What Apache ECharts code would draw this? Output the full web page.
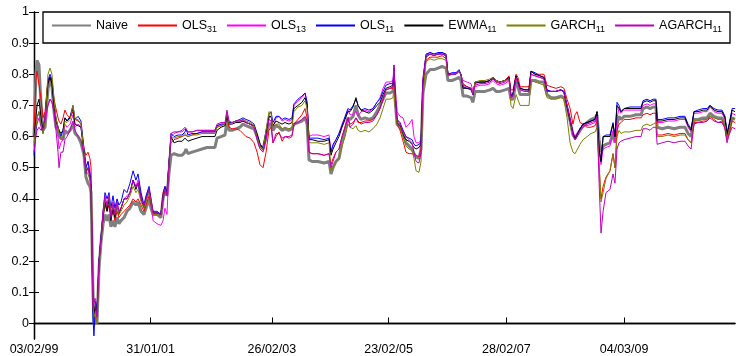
<!DOCTYPE html>
<html>
<head>
<meta charset="utf-8">
<script src="https://cdn.jsdelivr.net/npm/echarts@6/dist/echarts.min.js"></script>
<style>
  html, body { margin: 0; padding: 0; background: #fff; }
  #chart { width: 736px; height: 356px; }
</style>
</head>
<body>
<div id="chart"></div>
<script>
// Days elapsed since 03/02/1999 for each sampled observation
const days = [
  0,12,19,31,44,56,69,87,100,112,
  125,137,150,156,168,181,193,206,225,243,
  256,275,293,312,324,337,349,356,368,374,
  384,393,406,418,431,443,456,468,480,493,
  505,518,530,543,562,580,599,618,636,649,
  668,686,699,718,730,743,768,792,805,817,
  830,842,855,874,899,924,942,948,961,986,
  1017,1048,1080,1111,1129,1142,1167,1192,1204,1217,
  1236,1260,1285,1304,1323,1348,1373,1392,1410,1429,
  1448,1466,1479,1491,1510,1529,1548,1566,1591,1610,
  1622,1647,1672,1691,1704,1716,1735,1772,1810,1841,
  1853,1866,1884,1903,1922,1941,1959,1972,1991,2009,
  2022,2040,2065,2090,2115,2140,2159,2178,2196,2221,
  2240,2246,2253,2265,2284,2303,2321,2340,2359,2371,
  2384,2402,2415,2427,2446,2471,2496,2521,2546,2571,
  2583,2608,2633,2652,2664,2677,2702,2727,2739,2752,
  2783,2814,2845,2864,2883,2908,2939,2964,2976,2989,
  3008,3020,3033,3064,3089,3101,3126,3157,3182,3201,
  3226,3257,3288,3307,3326,3345,3363,3376,3388,3407,
  3426,3451,3476,3501,3513,3526,3538,3551,3569,3594,
  3613,3625,3638,3650,3663,3682,3719,3756,3788,3800,
  3825,3844,3863,3881,3888,3919,3956,3994,4031,4062,
  4081,4100,4118,4143,4175,4200,4218,4243,4268,4293,
  4312,4324,4337,4356,4374
];

const naive = [
  .60,.80,.845,.83,.70,.62,.63,.75,.79,.76,
  .68,.63,.62,.60,.60,.59,.62,.61,.62,.64,
  .61,.60,.58,.54,.47,.45,.44,.42,.10,.00,
  .02,.00,.18,.26,.32,.35,.33,.35,.31,.33,
  .31,.34,.32,.33,.34,.36,.37,.39,.38,.39,
  .36,.35,.37,.40,.37,.35,.35,.34,.40,.43,
  .41,.48,.54,.545,.54,.54,.55,.56,.545,.55,
  .555,.56,.565,.565,.565,.595,.60,.605,.65,.62,
  .62,.625,.63,.64,.635,.63,.625,.60,.57,.56,
  .60,.64,.64,.62,.635,.63,.62,.625,.62,.625,
  .64,.645,.65,.66,.64,.525,.52,.52,.515,.52,
  .48,.50,.52,.53,.58,.62,.66,.655,.665,.70,
  .67,.655,.66,.655,.66,.68,.70,.72,.74,.74,
  .745,.78,.72,.64,.63,.61,.58,.57,.56,.545,
  .535,.53,.56,.74,.80,.815,.815,.82,.825,.82,
  .78,.78,.785,.79,.78,.73,.73,.725,.71,.745,
  .745,.745,.75,.755,.745,.745,.75,.755,.72,.72,
  .78,.76,.735,.735,.735,.78,.78,.775,.775,.735,
  .725,.725,.73,.725,.69,.65,.605,.595,.60,.62,
  .635,.645,.655,.66,.67,.59,.55,.57,.575,.58,
  .61,.58,.64,.665,.655,.665,.665,.67,.67,.69,
  .695,.69,.695,.695,.63,.625,.63,.625,.63,.63,
  .61,.60,.655,.655,.66,.66,.675,.665,.66,.66,
  .64,.60,.62,.66,.655
];

const ols31 = [
  .62,.78,.81,.81,.72,.66,.68,.78,.79,.77,
  .72,.69,.66,.65,.64,.66,.685,.67,.66,.68,
  .655,.65,.64,.56,.54,.55,.53,.50,.12,.03,
  .05,.02,.20,.27,.34,.38,.36,.38,.34,.36,
  .33,.36,.34,.35,.36,.37,.38,.40,.39,.40,
  .38,.36,.38,.41,.38,.355,.355,.35,.42,.44,
  .42,.52,.58,.59,.595,.60,.605,.61,.60,.605,
  .61,.615,.615,.615,.615,.63,.635,.64,.665,.63,
  .625,.625,.62,.61,.60,.595,.58,.55,.51,.50,
  .55,.62,.63,.58,.60,.615,.585,.60,.595,.60,
  .64,.655,.67,.69,.66,.55,.545,.545,.54,.545,
  .51,.53,.55,.56,.60,.63,.66,.64,.645,.66,
  .645,.645,.65,.65,.655,.67,.69,.72,.75,.755,
  .755,.79,.72,.64,.62,.585,.55,.545,.545,.54,
  .54,.535,.56,.76,.845,.855,.855,.855,.86,.85,
  .795,.80,.80,.81,.80,.77,.76,.755,.74,.77,
  .775,.775,.78,.79,.775,.775,.78,.795,.75,.75,
  .80,.79,.76,.76,.76,.81,.80,.80,.80,.765,
  .76,.755,.76,.755,.72,.69,.64,.67,.68,.645,
  .64,.63,.63,.635,.65,.50,.40,.44,.47,.49,
  .545,.50,.62,.64,.645,.655,.655,.66,.66,.67,
  .675,.67,.675,.675,.605,.605,.61,.605,.61,.61,
  .59,.58,.645,.645,.65,.65,.665,.655,.645,.65,
  .63,.59,.61,.65,.645
];

const ols13 = [
  .58,.62,.64,.66,.63,.62,.64,.70,.72,.71,
  .68,.64,.60,.56,.58,.59,.64,.63,.64,.67,
  .63,.64,.63,.55,.50,.52,.49,.45,.06,.07,
  .08,.03,.20,.27,.36,.40,.37,.40,.34,.38,
  .35,.39,.36,.37,.40,.41,.42,.46,.44,.46,
  .41,.38,.40,.43,.39,.33,.32,.315,.33,.37,
  .35,.50,.60,.61,.615,.615,.625,.63,.615,.615,
  .62,.62,.62,.62,.62,.635,.64,.64,.67,.645,
  .645,.65,.65,.65,.645,.64,.635,.60,.57,.555,
  .60,.66,.665,.63,.66,.665,.65,.655,.65,.655,
  .70,.715,.725,.74,.71,.60,.605,.605,.60,.605,
  .555,.57,.59,.61,.64,.66,.685,.67,.67,.68,
  .665,.68,.685,.68,.69,.71,.725,.755,.775,.775,
  .78,.83,.76,.68,.665,.66,.63,.64,.655,.60,
  .58,.58,.59,.79,.86,.87,.865,.865,.87,.86,
  .80,.80,.805,.81,.805,.78,.775,.77,.745,.76,
  .765,.765,.77,.78,.77,.765,.77,.78,.73,.735,
  .79,.77,.75,.745,.745,.80,.795,.79,.785,.75,
  .745,.745,.75,.745,.70,.655,.615,.60,.61,.625,
  .635,.635,.64,.645,.66,.55,.51,.56,.565,.57,
  .62,.58,.66,.69,.675,.685,.685,.685,.685,.70,
  .705,.70,.705,.705,.645,.645,.65,.65,.655,.655,
  .63,.615,.675,.675,.68,.68,.695,.68,.675,.675,
  .655,.60,.63,.675,.67
];

const ols11 = [
  .54,.62,.66,.68,.64,.61,.66,.78,.80,.78,
  .70,.66,.63,.62,.60,.62,.66,.65,.665,.70,
  .655,.665,.65,.56,.50,.52,.48,.44,.02,-.04,
  .07,.04,.20,.28,.36,.42,.40,.42,.37,.41,
  .37,.40,.38,.39,.43,.42,.45,.49,.46,.48,
  .42,.38,.41,.44,.40,.36,.36,.35,.41,.44,
  .42,.52,.61,.60,.605,.605,.615,.625,.605,.61,
  .61,.615,.615,.615,.615,.635,.64,.64,.675,.645,
  .645,.65,.655,.66,.655,.65,.64,.61,.575,.565,
  .62,.67,.68,.645,.665,.665,.655,.66,.655,.66,
  .705,.72,.73,.74,.71,.595,.595,.595,.59,.595,
  .55,.575,.59,.61,.635,.665,.69,.685,.70,.72,
  .70,.685,.69,.685,.69,.71,.72,.745,.765,.77,
  .77,.82,.74,.655,.645,.62,.60,.595,.59,.575,
  .57,.575,.58,.78,.865,.87,.865,.87,.87,.865,
  .80,.805,.805,.815,.80,.76,.755,.755,.735,.775,
  .775,.775,.78,.79,.78,.775,.78,.79,.73,.74,
  .795,.775,.755,.75,.75,.81,.805,.795,.79,.75,
  .745,.745,.75,.745,.70,.655,.61,.59,.60,.625,
  .64,.645,.65,.655,.68,.56,.52,.60,.605,.605,
  .645,.60,.71,.70,.68,.69,.695,.695,.695,.715,
  .72,.715,.72,.72,.655,.655,.66,.66,.665,.665,
  .64,.625,.68,.685,.69,.69,.70,.69,.685,.685,
  .665,.61,.64,.69,.69
];

const ewma11 = [
  .60,.66,.70,.72,.66,.62,.66,.77,.79,.77,
  .70,.65,.63,.62,.61,.62,.66,.65,.66,.69,
  .64,.635,.63,.55,.49,.50,.47,.43,.05,.02,
  .06,.03,.20,.27,.34,.39,.36,.40,.33,.37,
  .34,.38,.35,.37,.40,.40,.42,.46,.43,.45,
  .40,.37,.40,.43,.39,.355,.355,.35,.40,.43,
  .41,.51,.60,.58,.585,.585,.595,.60,.585,.59,
  .595,.60,.60,.60,.60,.62,.63,.635,.665,.64,
  .64,.645,.645,.65,.645,.64,.635,.605,.575,.56,
  .61,.665,.665,.635,.65,.645,.64,.645,.64,.645,
  .69,.70,.71,.725,.70,.59,.59,.585,.585,.59,
  .54,.56,.58,.60,.63,.655,.68,.68,.695,.725,
  .70,.685,.68,.675,.685,.70,.71,.735,.755,.76,
  .765,.80,.73,.645,.635,.605,.59,.585,.575,.565,
  .56,.565,.575,.77,.855,.865,.86,.865,.865,.86,
  .80,.80,.80,.81,.80,.755,.755,.75,.735,.775,
  .775,.775,.78,.79,.78,.775,.78,.79,.73,.735,
  .795,.775,.755,.75,.75,.81,.80,.795,.79,.745,
  .745,.745,.75,.74,.695,.65,.61,.595,.605,.625,
  .64,.645,.65,.655,.68,.56,.52,.60,.60,.60,
  .64,.60,.70,.70,.68,.69,.69,.69,.69,.71,
  .715,.71,.715,.715,.65,.65,.655,.655,.66,.66,
  .635,.62,.68,.68,.685,.685,.70,.685,.68,.68,
  .66,.605,.635,.685,.68
];

const garch11 = [
  .57,.63,.66,.68,.64,.61,.65,.80,.82,.80,
  .72,.66,.63,.61,.59,.60,.65,.645,.655,.70,
  .655,.655,.64,.55,.49,.48,.46,.42,.06,.02,
  .04,.00,.19,.27,.35,.40,.38,.41,.35,.38,
  .35,.38,.35,.36,.38,.39,.41,.44,.42,.43,
  .39,.37,.39,.42,.39,.35,.35,.345,.40,.43,
  .41,.51,.60,.595,.60,.60,.61,.615,.60,.605,
  .605,.61,.61,.61,.61,.63,.635,.64,.68,.64,
  .645,.65,.65,.655,.65,.645,.635,.60,.57,.56,
  .62,.68,.675,.63,.64,.64,.625,.63,.625,.63,
  .68,.695,.70,.715,.69,.58,.58,.58,.575,.58,
  .49,.50,.52,.53,.57,.60,.64,.63,.625,.635,
  .62,.615,.62,.615,.625,.64,.66,.69,.72,.72,
  .725,.76,.70,.64,.63,.60,.57,.56,.555,.53,
  .49,.485,.52,.74,.84,.85,.845,.85,.85,.845,
  .795,.80,.80,.81,.80,.765,.76,.755,.74,.775,
  .78,.78,.785,.79,.78,.775,.78,.785,.70,.69,
  .735,.73,.70,.70,.70,.78,.775,.77,.765,.725,
  .72,.72,.725,.72,.66,.58,.55,.545,.55,.575,
  .59,.60,.61,.615,.63,.52,.39,.42,.465,.49,
  .545,.50,.60,.62,.61,.615,.615,.62,.62,.635,
  .64,.635,.64,.645,.60,.60,.605,.60,.605,.605,
  .59,.58,.65,.65,.655,.655,.665,.66,.655,.655,
  .635,.595,.62,.66,.655
];

const agarch11 = [
  .55,.60,.62,.63,.62,.63,.66,.70,.72,.71,
  .68,.62,.55,.50,.55,.55,.59,.60,.62,.65,
  .62,.60,.59,.54,.48,.50,.47,.43,.05,.08,
  .06,.02,.20,.27,.36,.41,.38,.41,.34,.39,
  .35,.39,.36,.37,.40,.40,.42,.46,.44,.45,
  .40,.38,.40,.43,.40,.355,.355,.35,.40,.43,
  .41,.51,.61,.615,.615,.62,.63,.635,.615,.615,
  .62,.62,.62,.62,.62,.64,.645,.645,.685,.65,
  .645,.65,.65,.655,.645,.64,.63,.59,.56,.55,
  .59,.655,.65,.58,.61,.61,.595,.60,.60,.605,
  .64,.645,.655,.665,.65,.55,.545,.545,.54,.545,
  .50,.52,.55,.56,.60,.63,.66,.63,.64,.66,
  .65,.64,.645,.645,.65,.67,.69,.72,.75,.755,
  .76,.83,.74,.655,.64,.615,.60,.59,.58,.55,
  .52,.515,.55,.78,.86,.865,.86,.865,.865,.86,
  .80,.80,.80,.81,.80,.765,.76,.755,.735,.765,
  .77,.77,.775,.785,.775,.77,.775,.785,.725,.73,
  .79,.77,.75,.745,.745,.80,.795,.79,.785,.745,
  .745,.745,.75,.74,.70,.655,.605,.59,.60,.62,
  .63,.64,.645,.65,.665,.45,.29,.36,.42,.43,
  .48,.45,.56,.58,.585,.59,.595,.60,.60,.625,
  .625,.62,.63,.63,.575,.58,.585,.58,.585,.585,
  .57,.56,.64,.645,.645,.65,.66,.65,.645,.645,
  .625,.58,.605,.63,.625
];

// Axis ticks
const tickDays = [0, 728, 1484, 2212, 2947, 3682];
const tickLabels = ['03/02/99', '31/01/01', '26/02/03', '23/02/05', '28/02/07', '04/03/09'];
const yTicks = [0, 0.1, 0.2, 0.3, 0.4, 0.5, 0.6, 0.7, 0.8, 0.9, 1];
const yTickLabels = ['0', '0.1', '0.2', '0.3', '0.4', '0.5', '0.6', '0.7', '0.8', '0.9', '1'];
const lastDay = 4374;

const seriesNames = ['Naive', 'OLS31', 'OLS13', 'OLS11', 'EWMA11', 'GARCH11', 'AGARCH11'];
const seriesValues = [naive, ols31, ols13, ols11, ewma11, garch11, agarch11];
const seriesColors = ['#808080', '#ff0000', '#ff00ff', '#0000ff', '#000000', '#808000', '#bf00bf'];
const seriesWidths = [3, 1, 1, 1, 1, 1, 1];

const FONT = 'Liberation Sans, Arial, Helvetica, sans-serif';

const chart = echarts.init(document.getElementById('chart'), null, { renderer: 'canvas' });

const series = seriesNames.map((name, k) => ({
  name,
  type: 'line',
  data: days.map((d, i) => [d, seriesValues[k][i]]),
  symbol: 'none',
  showSymbol: false,
  color: seriesColors[k],
  lineStyle: { color: seriesColors[k], width: seriesWidths[k] },
  z: 2 + k * 0.01,
  silent: true
}));

const axisLineStyle = { color: '#000', width: 1.3 };

chart.setOption({
  animation: false,
  backgroundColor: '#fff',
  grid: { left: 34, right: 1, top: 12, bottom: 17, containLabel: false },
  xAxis: [
    {
      type: 'value', min: 0, max: lastDay, position: 'bottom',
      axisLine: { show: true, lineStyle: axisLineStyle },
      axisTick: { show: true, inside: true, length: 6, customValues: tickDays, lineStyle: { color: '#000', width: 1 } },
      axisLabel: {
        show: true, customValues: tickDays, margin: 4,
        fontFamily: FONT, fontSize: 12.5, color: '#000',
        formatter: (v) => tickLabels[tickDays.indexOf(Math.round(v))] || ''
      },
      splitLine: { show: false }
    },
    {
      type: 'value', min: 0, max: lastDay, position: 'top',
      axisLine: { show: true, lineStyle: axisLineStyle },
      axisTick: { show: false }, axisLabel: { show: false }, splitLine: { show: false }
    }
  ],
  yAxis: [
    {
      type: 'value', min: -0.05, max: 1, position: 'left',
      axisLine: { show: true, lineStyle: axisLineStyle },
      axisTick: { show: true, inside: true, length: 5, customValues: yTicks, lineStyle: { color: '#000', width: 1 } },
      axisLabel: {
        show: true, customValues: yTicks, margin: 5,
        fontFamily: FONT, fontSize: 12.5, color: '#000',
        formatter: (v) => {
          const idx = yTicks.findIndex(t => Math.abs(t - v) < 1e-6);
          return idx >= 0 ? yTickLabels[idx] : '';
        }
      },
      splitLine: { show: false }
    },
    {
      type: 'value', min: -0.05, max: 1, position: 'right',
      axisLine: { show: true, lineStyle: axisLineStyle },
      axisTick: { show: true, inside: true, length: 5, customValues: yTicks, lineStyle: { color: '#000', width: 1 } },
      axisLabel: { show: false },
      splitLine: { show: false }
    }
  ],
  graphic: [
    {
      type: 'rect', z: 10, silent: true,
      shape: { x: 43, y: 12, width: 687, height: 31 },
      style: { fill: '#fff', stroke: '#000', lineWidth: 1.3 }
    }
  ],
  legend: {
    data: seriesNames,
    orient: 'horizontal',
    left: 51, top: 19,
    padding: 0,
    itemGap: 9,
    itemWidth: 39,
    itemHeight: 12,
    z: 20,
    selectedMode: false,
    itemStyle: { opacity: 0 },
    textStyle: {
      fontFamily: FONT, fontSize: 12.5, color: '#000',
      rich: {
        b: { fontFamily: FONT, fontSize: 12.5, color: '#000' },
        s: { fontFamily: FONT, fontSize: 9, color: '#000', padding: [8, 0, 0, 0] }
      }
    },
    formatter: (name) => {
      const m = name.match(/^(\D+)(\d+)$/);
      return m ? '{b|' + m[1] + '}{s|' + m[2] + '}' : '{b|' + name + '}';
    }
  },
  series
});
</script>
</body>
</html>
